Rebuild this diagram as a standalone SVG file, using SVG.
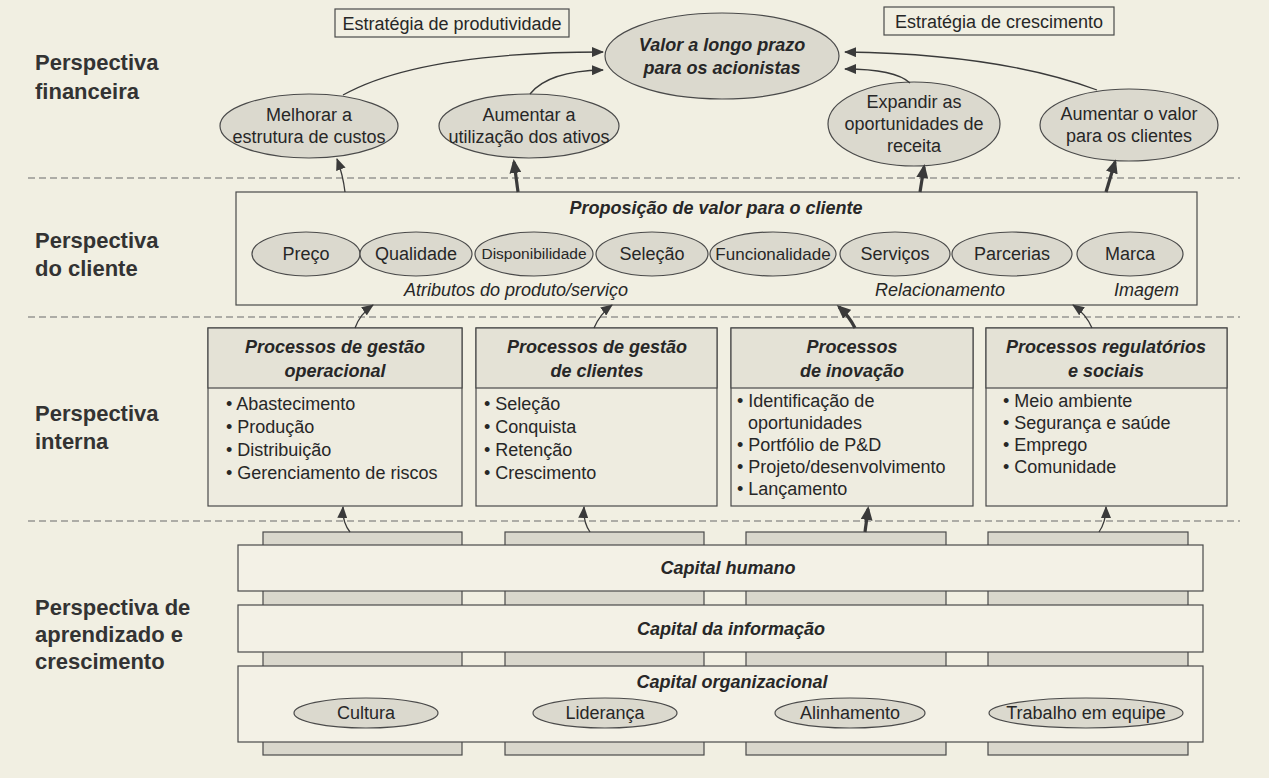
<svg xmlns="http://www.w3.org/2000/svg" width="1269" height="778" viewBox="0 0 1269 778">
<defs>
<marker id="ah" markerWidth="12" markerHeight="10" refX="11" refY="5" orient="auto" markerUnits="userSpaceOnUse"><path d="M0,0 L12,5 L0,10 Z" fill="#3a3a3a"/></marker>
<marker id="ahb" markerWidth="14" markerHeight="12" refX="11" refY="6" orient="auto" markerUnits="userSpaceOnUse"><path d="M0,0 L14,6 L0,12 Z" fill="#3a3a3a"/></marker>
<style>
.t{font-family:"Liberation Sans",Arial,sans-serif;font-size:18px;fill:#272727}
.m{text-anchor:middle}
.bi{font-weight:bold;font-style:italic}
.i{font-style:italic}
.lbl{font-size:22px;font-weight:bold;fill:#333}
.el{fill:#dbd9ce;stroke:#4a4a4a;stroke-width:1.2}
.box{fill:none;stroke:#4a4a4a;stroke-width:1.2}
.pbox{fill:#eeece0;stroke:#4a4a4a;stroke-width:1.2}
.phead{fill:#e4e2d6;stroke:#4a4a4a;stroke-width:1.2}
.tab{fill:#d9d7cc;stroke:#4a4a4a;stroke-width:1.2}
.bar{fill:#f3f1e6;stroke:#4a4a4a;stroke-width:1.2}
.dash{stroke:#6a6a6a;stroke-width:1.2;stroke-dasharray:7 4}
.ar{fill:none;stroke:#3a3a3a;stroke-width:1.3;marker-end:url(#ah)}
.ark{fill:none;stroke:#3a3a3a;stroke-width:3.2;marker-end:url(#ahb)}
</style>
</defs>
<rect x="0" y="0" width="1269" height="778" fill="#f1efe2"/>

<g id="separators">
<line class="dash" x1="28" y1="178" x2="1240" y2="178"/>
<line class="dash" x1="28" y1="317" x2="1240" y2="317"/>
<line class="dash" x1="28" y1="521" x2="1240" y2="521"/>
</g>

<g id="perspective-labels">
<text class="t lbl" x="35" y="70">Perspectiva</text>
<text class="t lbl" x="35" y="99">financeira</text>
<text class="t lbl" x="35" y="248">Perspectiva</text>
<text class="t lbl" x="35" y="276">do cliente</text>
<text class="t lbl" x="35" y="421">Perspectiva</text>
<text class="t lbl" x="35" y="449">interna</text>
<text class="t lbl" x="35" y="615">Perspectiva de</text>
<text class="t lbl" x="35" y="642">aprendizado e</text>
<text class="t lbl" x="35" y="669">crescimento</text>
</g>

<g id="estrategia-produtividade">
<rect class="box" x="335" y="9" width="234" height="28"/>
<text class="t m" x="452" y="30">Estratégia de produtividade</text>
</g>
<g id="estrategia-crescimento">
<rect class="box" x="884" y="7" width="230" height="28"/>
<text class="t m" x="999" y="28">Estratégia de crescimento</text>
</g>

<g id="valor-acionistas">
<ellipse class="el" cx="722" cy="56" rx="117" ry="43"/>
<text class="t m bi" x="722" y="51">Valor a longo prazo</text>
<text class="t m bi" x="722" y="74">para os acionistas</text>
</g>
<g id="melhorar-custos">
<ellipse class="el" cx="309" cy="126" rx="89" ry="32"/>
<text class="t m" x="309" y="121">Melhorar a</text>
<text class="t m" x="309" y="143">estrutura de custos</text>
</g>
<g id="aumentar-ativos">
<ellipse class="el" cx="529" cy="126" rx="90" ry="32"/>
<text class="t m" x="529" y="121">Aumentar a</text>
<text class="t m" x="529" y="143">utilização dos ativos</text>
</g>
<g id="expandir-receita">
<ellipse class="el" cx="914" cy="124" rx="86" ry="42"/>
<text class="t m" x="914" y="108">Expandir as</text>
<text class="t m" x="914" y="130">oportunidades de</text>
<text class="t m" x="914" y="152">receita</text>
</g>
<g id="aumentar-valor-clientes">
<ellipse class="el" cx="1129" cy="125" rx="89" ry="36"/>
<text class="t m" x="1129" y="120">Aumentar o valor</text>
<text class="t m" x="1129" y="142">para os clientes</text>
</g>

<g id="proposicao-valor">
<rect class="box" x="236" y="192" width="961" height="113"/>
<text class="t m bi" x="716" y="214">Proposição de valor para o cliente</text>
<ellipse class="el" cx="306" cy="254" rx="54" ry="22"/>
<text class="t m" x="306" y="260">Preço</text>
<ellipse class="el" cx="416" cy="254" rx="56" ry="22"/>
<text class="t m" x="416" y="260">Qualidade</text>
<ellipse class="el" cx="534" cy="254" rx="59" ry="22"/>
<text class="t m" x="534" y="259" style="font-size:15.5px">Disponibilidade</text>
<ellipse class="el" cx="652" cy="254" rx="56" ry="22"/>
<text class="t m" x="652" y="260">Seleção</text>
<ellipse class="el" cx="773" cy="254" rx="63" ry="22"/>
<text class="t m" x="773" y="260" style="font-size:17px">Funcionalidade</text>
<ellipse class="el" cx="895" cy="254" rx="55" ry="22"/>
<text class="t m" x="895" y="260">Serviços</text>
<ellipse class="el" cx="1012" cy="254" rx="60" ry="22"/>
<text class="t m" x="1012" y="260">Parcerias</text>
<ellipse class="el" cx="1130" cy="254" rx="53" ry="22"/>
<text class="t m" x="1130" y="260">Marca</text>
<text class="t i" x="404" y="296">Atributos do produto/serviço</text>
<text class="t i" x="875" y="296">Relacionamento</text>
<text class="t i" x="1114" y="296">Imagem</text>
</g>

<g id="processos-operacional">
<rect class="pbox" x="208" y="328" width="254" height="178"/>
<rect class="phead" x="208" y="328" width="254" height="60"/>
<text class="t m bi" x="335" y="353">Processos de gestão</text>
<text class="t m bi" x="335" y="377">operacional</text>
<text class="t" x="226" y="410">• Abastecimento</text>
<text class="t" x="226" y="433">• Produção</text>
<text class="t" x="226" y="456">• Distribuição</text>
<text class="t" x="226" y="479">• Gerenciamento de riscos</text>
</g>
<g id="processos-clientes">
<rect class="pbox" x="476" y="328" width="241" height="178"/>
<rect class="phead" x="476" y="328" width="241" height="60"/>
<text class="t m bi" x="597" y="353">Processos de gestão</text>
<text class="t m bi" x="597" y="377">de clientes</text>
<text class="t" x="484" y="410">• Seleção</text>
<text class="t" x="484" y="433">• Conquista</text>
<text class="t" x="484" y="456">• Retenção</text>
<text class="t" x="484" y="479">• Crescimento</text>
</g>
<g id="processos-inovacao">
<rect class="pbox" x="731" y="328" width="242" height="178"/>
<rect class="phead" x="731" y="328" width="242" height="60"/>
<text class="t m bi" x="852" y="353">Processos</text>
<text class="t m bi" x="852" y="377">de inovação</text>
<text class="t" x="737" y="407">• Identificação de</text>
<text class="t" x="748" y="429">oportunidades</text>
<text class="t" x="737" y="451">• Portfólio de P&amp;D</text>
<text class="t" x="737" y="473">• Projeto/desenvolvimento</text>
<text class="t" x="737" y="495">• Lançamento</text>
</g>
<g id="processos-regulatorios">
<rect class="pbox" x="986" y="328" width="241" height="178"/>
<rect class="phead" x="986" y="328" width="241" height="60"/>
<text class="t m bi" x="1106" y="353">Processos regulatórios</text>
<text class="t m bi" x="1106" y="377">e sociais</text>
<text class="t" x="1003" y="407">• Meio ambiente</text>
<text class="t" x="1003" y="429">• Segurança e saúde</text>
<text class="t" x="1003" y="451">• Emprego</text>
<text class="t" x="1003" y="473">• Comunidade</text>
</g>

<g id="pilares">
<rect class="tab" x="263" y="532" width="199" height="223"/>
<rect class="tab" x="505" y="532" width="199" height="223"/>
<rect class="tab" x="746" y="532" width="200" height="223"/>
<rect class="tab" x="988" y="532" width="200" height="223"/>
</g>
<g id="capital-humano">
<rect class="bar" x="238" y="545" width="965" height="46"/>
<text class="t m bi" x="728" y="574">Capital humano</text>
</g>
<g id="capital-informacao">
<rect class="bar" x="238" y="605" width="965" height="47"/>
<text class="t m bi" x="731" y="635">Capital da informação</text>
</g>
<g id="capital-organizacional">
<rect class="bar" x="238" y="666" width="965" height="76"/>
<text class="t m bi" x="732" y="688">Capital organizacional</text>
<ellipse class="el" cx="366" cy="713" rx="72" ry="15"/>
<text class="t m" x="366" y="719">Cultura</text>
<ellipse class="el" cx="605" cy="713" rx="72" ry="15"/>
<text class="t m" x="605" y="719">Liderança</text>
<ellipse class="el" cx="850" cy="713" rx="75" ry="15"/>
<text class="t m" x="850" y="719">Alinhamento</text>
<ellipse class="el" cx="1086" cy="713" rx="97" ry="15"/>
<text class="t m" x="1086" y="719">Trabalho em equipe</text>
</g>

<g id="connectors">
<path class="ar" d="M343,95 Q420,52 603,52"/>
<path class="ar" d="M530,94 Q548,71 603,70"/>
<path class="ar" d="M910,83 Q895,69 845,69"/>
<path class="ar" d="M1097,90 Q1000,54 845,52"/>
<path class="ar" d="M345,192 Q343,175 337,159"/>
<path class="ark" d="M518,192 L514,162"/>
<path class="ark" d="M920,192 L924,167"/>
<path class="ark" d="M1106,192 L1115,162"/>
<path class="ar" d="M355,328 Q360,314 373,305"/>
<path class="ar" d="M594,328 Q600,314 612,305"/>
<path class="ark" d="M855,328 Q849,316 839,307"/>
<path class="ar" d="M1092,328 Q1086,314 1073,305"/>
<path class="ar" d="M350,532 Q342,522 343,507"/>
<path class="ar" d="M590,532 Q583,522 584,507"/>
<path class="ark" d="M865,532 L868,509"/>
<path class="ar" d="M1099,532 Q1106,522 1106,507"/>
</g>
</svg>
